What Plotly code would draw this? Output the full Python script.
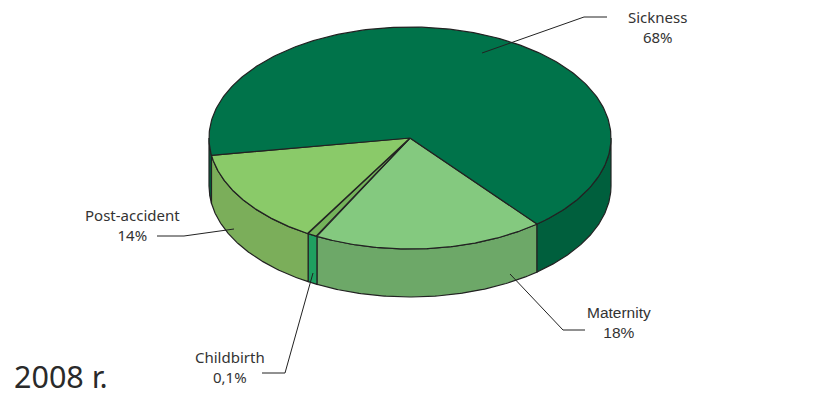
import numpy as np
import plotly.graph_objects as go

categories = ["Maternity", "Childbirth", "Post-accident", "Sickness"]
drawn_shares = [18.55, 0.8, 14.05, 66.6]
value_labels = ["18%", "0,1%", "14%", "68%"]
top_colors = ["#84c97f", "#74b35a", "#8aca69", "#00734a"]
side_colors = ["#6da868", "#1fa060", "#7bae5a", "#005f3d"]
year_label = "2008 r."

CX, CY, RX, RY, DEPTH = 410, 138, 201, 111, 48
START = 50.8
OUT = "#222222"


def ell(t):
    r = np.radians(t)
    return CX + RX * np.cos(r), CY + RY * np.sin(r)


fig = go.Figure()


def poly(xs, ys, color):
    fig.add_trace(go.Scatter(x=xs, y=ys, mode="lines", fill="toself", fillcolor=color,
                             line=dict(color=OUT, width=1.2), hoverinfo="skip", showlegend=False))


edges = START + np.concatenate([[0], np.cumsum(drawn_shares)]) * 3.6

# side walls (only the front half of the rim is visible)
for i in range(len(categories)):
    for lo, hi in [(edges[i], edges[i + 1]), (edges[i] - 360, edges[i + 1] - 360)]:
        a, b = max(lo, 0), min(hi, 180)
        if b <= a:
            continue
        t = np.linspace(a, b, 120)
        x, y = ell(t)
        poly(np.concatenate([x, x[::-1], x[:1]]),
             np.concatenate([y, y[::-1] + DEPTH, y[:1]]), side_colors[i])

# top faces
for i in range(len(categories)):
    t = np.linspace(edges[i], edges[i + 1], 240)
    x, y = ell(t)
    poly(np.concatenate([[CX], x, [CX]]), np.concatenate([[CY], y, [CY]]), top_colors[i])

# leader lines
leaders = [
    ([482, 584, 607], [53, 17, 17]),
    ([234, 184, 157], [229, 236, 236]),
    ([510, 563, 585], [274, 330, 330]),
    ([313, 285, 262], [273, 373, 373]),
]
for lx, ly in leaders:
    fig.add_trace(go.Scatter(x=lx, y=ly, mode="lines", line=dict(color=OUT, width=1),
                             hoverinfo="skip", showlegend=False))

LAB = "Noto Sans, sans-serif"
ARI = "Liberation Sans, Arial, sans-serif"
ann = [
    (657, 27, categories[3], value_labels[3], LAB, 15),
    (132, 225, categories[2], value_labels[2], LAB, 15),
    (619, 322, categories[0], value_labels[0], ARI, 15.5),
    (230, 367, categories[1], value_labels[1], LAB, 15),
]
annotations = [dict(x=cx, y=cy, xref="x", yref="y", text=f"{name}<br>{val}", showarrow=False, align="center",
                    font=dict(family=fam, size=size, color="#333333"))
               for cx, cy, name, val, fam, size in ann]
annotations.append(dict(x=12, y=376, xref="x", yref="y", xanchor="left", text=year_label, showarrow=False,
                        font=dict(family=LAB, size=30.5, color="#2a2a2a")))

fig.update_layout(
    width=825, height=404, margin=dict(l=0, r=0, t=0, b=0), paper_bgcolor="white", plot_bgcolor="white",
    xaxis=dict(range=[0, 825], visible=False, fixedrange=True),
    yaxis=dict(range=[404, 0], visible=False, fixedrange=True),
    annotations=annotations, showlegend=False,
)
fig.write_html("out.html", config={"displayModeBar": False},
               post_script="document.body.style.margin='0';")
